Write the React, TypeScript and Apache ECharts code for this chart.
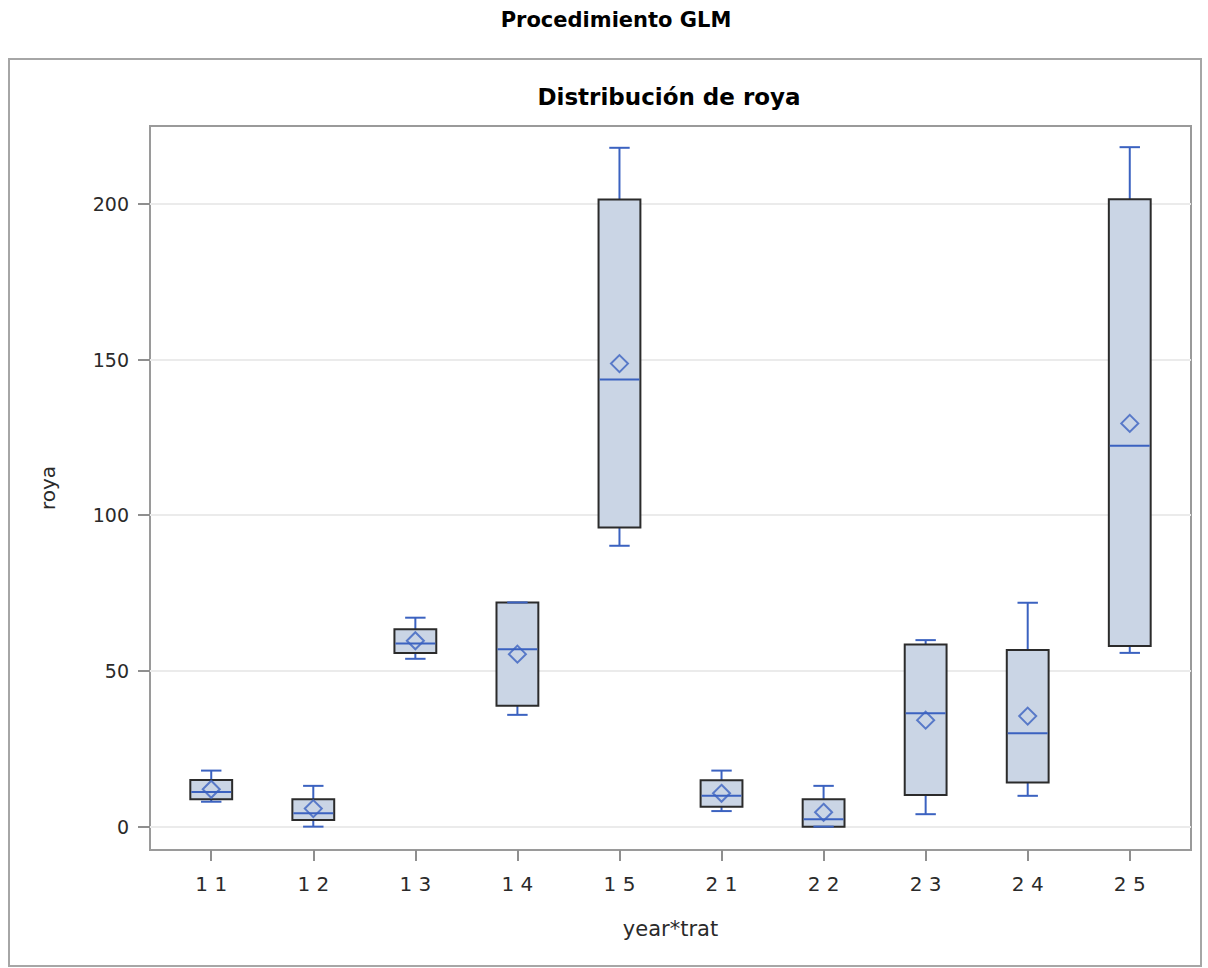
import React, { useEffect, useRef } from "react";
import * as echarts from "echarts";

const categories = ["1 1", "1 2", "1 3", "1 4", "1 5", "2 1", "2 2", "2 3", "2 4", "2 5"];
const whiskerLow = [8.0, 0, 53.9, 35.9, 90.2, 5.0, 0, 4.0, 9.9, 55.8];
const q1 = [8.8, 2.1, 55.8, 38.8, 96.1, 6.4, 0, 10.2, 14.2, 58.0];
const median = [11.1, 4.3, 58.8, 57.0, 143.6, 9.9, 2.4, 36.4, 30.0, 122.3];
const q3 = [15.0, 8.8, 63.4, 72.0, 201.4, 14.9, 8.8, 58.5, 56.7, 201.5];
const whiskerHigh = [18.0, 13.1, 67.1, 72.0, 218.0, 18.0, 13.1, 59.9, 71.9, 218.2];
const means = [12.0, 5.8, 59.7, 55.4, 148.7, 10.7, 4.6, 34.2, 35.5, 129.5];
const yTicks = [0, 50, 100, 150, 200];

const FONT = "DejaVu Sans";
const BLUE = "#3B62C0";
const FILL = "#CAD5E5";
const EDGE = "#2b2b2b";
const AXIS = "#8f8f8f";

export default function App() {
  const ref = useRef<HTMLDivElement>(null);
  useEffect(() => {
    if (!ref.current) return;
    const chart = echarts.init(ref.current, null, { renderer: "svg" });
    const idx = categories.map((_, i) => i);
    const boxData = categories.map((_, i) => [i, whiskerLow[i], q1[i], median[i], q3[i], whiskerHigh[i]]);
    const meanData = categories.map((_, i) => [i, means[i]]);

    const renderItem = (params: any, api: any) => {
      const x = api.value(0);
      const pLow = api.coord([x, api.value(1)]);
      const pQ1 = api.coord([x, api.value(2)]);
      const pMed = api.coord([x, api.value(3)]);
      const pQ3 = api.coord([x, api.value(4)]);
      const pHigh = api.coord([x, api.value(5)]);
      const unit = api.size([1, 0])[0];
      const hw = unit * 0.205;
      const cw = unit * 0.1;
      const cx = pMed[0];
      const lineStyle = { stroke: BLUE, lineWidth: 2 };
      return {
        type: "group",
        children: [
          { type: "line", shape: { x1: cx, y1: pQ3[1], x2: cx, y2: pHigh[1] }, style: lineStyle },
          { type: "line", shape: { x1: cx, y1: pQ1[1], x2: cx, y2: pLow[1] }, style: lineStyle },
          {
            type: "rect",
            shape: { x: cx - hw, y: pQ3[1], width: hw * 2, height: pQ1[1] - pQ3[1] },
            style: { fill: FILL, stroke: EDGE, lineWidth: 2 },
          },
          { type: "line", shape: { x1: cx - cw, y1: pHigh[1], x2: cx + cw, y2: pHigh[1] }, style: lineStyle },
          { type: "line", shape: { x1: cx - cw, y1: pLow[1], x2: cx + cw, y2: pLow[1] }, style: lineStyle },
          { type: "line", shape: { x1: cx - hw + 1, y1: pMed[1], x2: cx + hw - 1, y2: pMed[1] }, style: lineStyle },
        ],
      };
    };

    const option: any = {
      animation: false,
      backgroundColor: "#ffffff",
      title: [
        {
          text: "Procedimiento GLM",
          left: 611,
          top: 4,
          textAlign: "center",
          textStyle: { fontFamily: FONT, fontWeight: "bold", fontSize: 21, color: "#000" },
        },
        {
          text: "Distribución de roya",
          left: 664,
          top: 80,
          textAlign: "center",
          textStyle: { fontFamily: FONT, fontWeight: "bold", fontSize: 23, color: "#000" },
        },
      ],
      graphic: [
        {
          type: "rect",
          shape: { x: 9, y: 59, width: 1192, height: 907 },
          style: { fill: "none", stroke: "#a6a6a6", lineWidth: 2 },
          silent: true,
          z: -1,
        },
      ],
      grid: {
        left: 150,
        top: 126,
        right: 17,
        bottom: 118,
        show: true,
        borderColor: "#9a9a9a",
        borderWidth: 2,
        backgroundColor: "transparent",
      },
      xAxis: {
        type: "value",
        min: -0.6,
        max: 9.6,
        name: "year*trat",
        nameLocation: "middle",
        nameGap: 68,
        nameTextStyle: { fontFamily: FONT, fontSize: 21, color: "#2a2a2a" },
        axisLine: { show: false, onZero: false },
        splitLine: { show: false },
        axisTick: { show: true, inside: false, customValues: idx, length: 11, lineStyle: { color: AXIS, width: 2 } },
        axisLabel: {
          customValues: idx,
          margin: 24,
          fontFamily: FONT,
          fontSize: 20,
          color: "#2a2a2a",
          formatter: (v: number) => categories[Math.round(v)] ?? "",
        },
      },
      yAxis: {
        type: "value",
        min: -7.5,
        max: 225,
        minInterval: 50,
        maxInterval: 50,
        name: "roya",
        nameLocation: "middle",
        nameGap: 92,
        nameTextStyle: { fontFamily: FONT, fontSize: 20, color: "#2a2a2a" },
        axisLine: { show: false, onZero: false },
        splitLine: { show: true, lineStyle: { color: "#ebebeb", width: 2 } },
        axisTick: { show: true, inside: false, customValues: yTicks, length: 12, lineStyle: { color: AXIS, width: 2 } },
        axisLabel: {
          customValues: yTicks,
          margin: 21,
          fontFamily: FONT,
          fontSize: 19,
          color: "#2a2a2a",
        },
      },
      series: [
        {
          type: "custom",
          name: "roya",
          renderItem,
          data: boxData,
          encode: { x: 0, y: [1, 2, 3, 4, 5] },
          z: 2,
        },
        {
          type: "scatter",
          name: "media",
          data: meanData,
          symbol: "diamond",
          symbolSize: 17,
          itemStyle: { color: "rgba(0,0,0,0)", borderColor: BLUE, borderWidth: 2 },
          z: 3,
        },
      ],
    };
    chart.setOption(option);
    return () => chart.dispose();
  }, []);
  return (
    <div
      ref={ref}
      style={{ position: "fixed", left: 0, top: 0, width: 1208, height: 968 }}
    />
  );
}
